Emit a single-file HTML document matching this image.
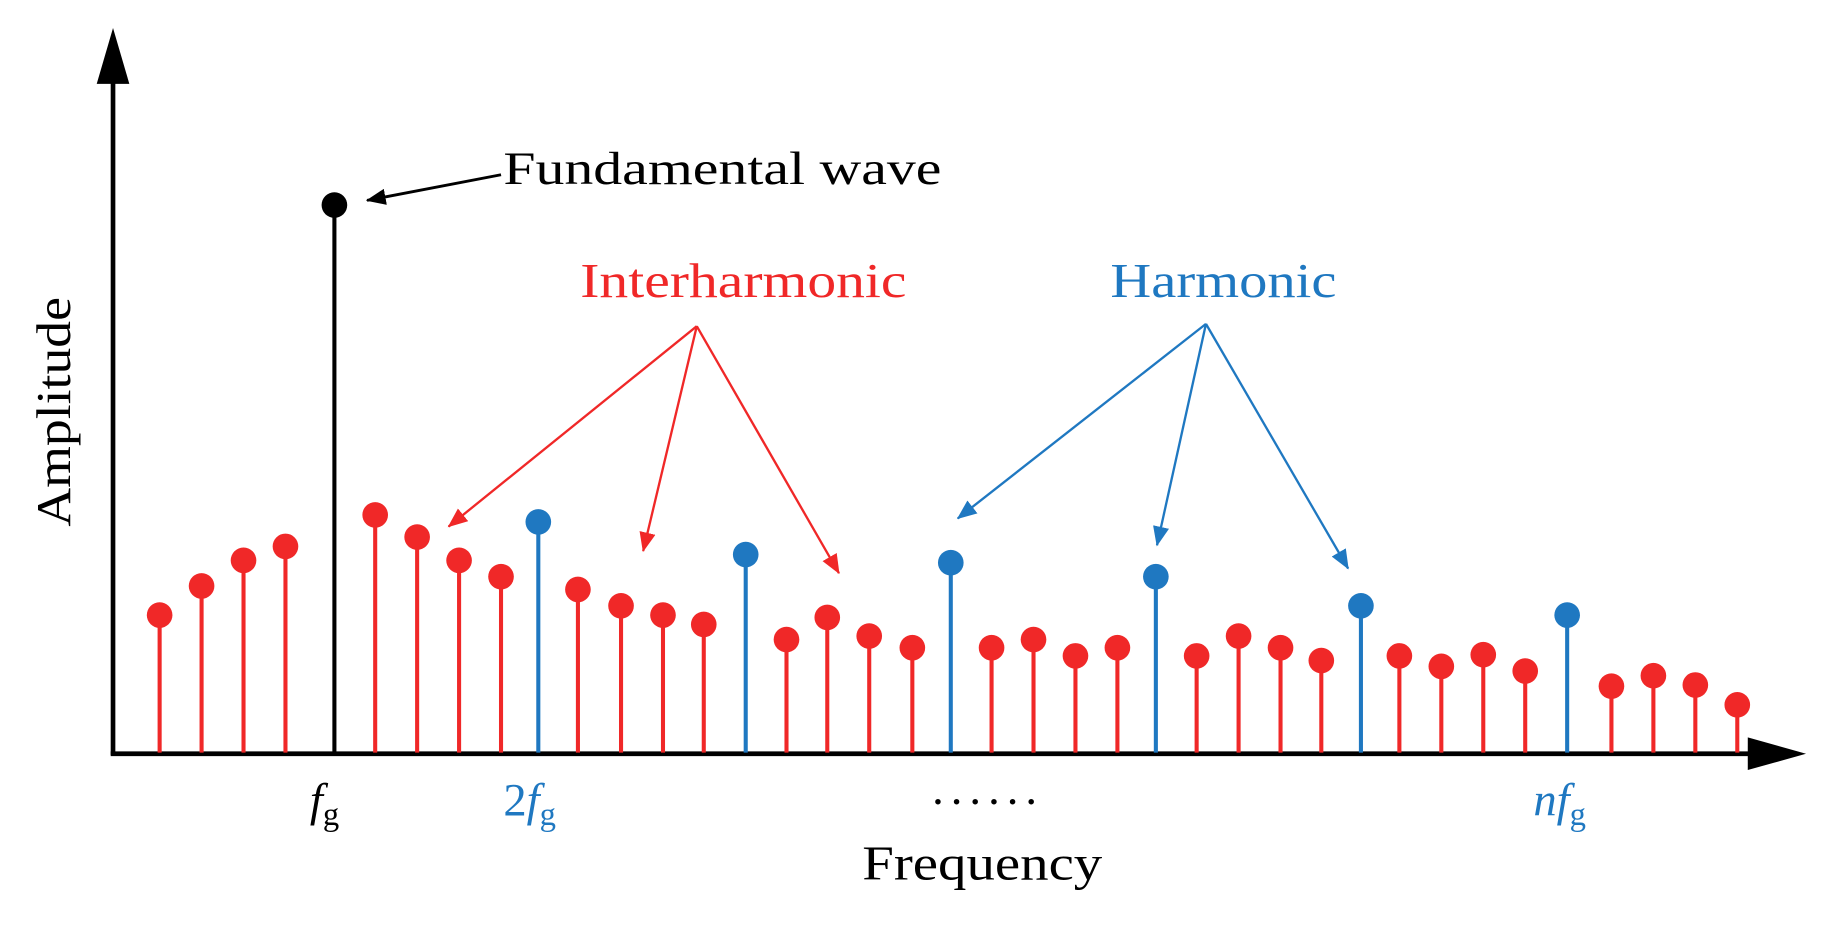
<!DOCTYPE html>
<html><head><meta charset="utf-8"><style>html,body{margin:0;padding:0;background:#fff}svg{display:block}</style></head><body>
<svg width="1827" height="925" viewBox="0 0 1568 794" preserveAspectRatio="none" xmlns="http://www.w3.org/2000/svg" font-family="Liberation Serif, serif">
<defs>
<marker id="ar" markerWidth="18" markerHeight="14" refX="16" refY="7" orient="auto" markerUnits="userSpaceOnUse"><path d="M0,0 L17,7 L0,14 z" fill="#f02828"/></marker>
<marker id="ab" markerWidth="18" markerHeight="14" refX="16" refY="7" orient="auto" markerUnits="userSpaceOnUse"><path d="M0,0 L17,7 L0,14 z" fill="#1f78c1"/></marker>
<marker id="ak" markerWidth="18" markerHeight="14" refX="16" refY="7" orient="auto" markerUnits="userSpaceOnUse"><path d="M0,0 L17,7 L0,14 z" fill="#000"/></marker>
</defs>
<line x1="97" y1="648" x2="97" y2="60" stroke="#000" stroke-width="4"/>
<line x1="95" y1="647" x2="1510" y2="647" stroke="#000" stroke-width="4"/>
<polygon points="97,24 83,72 111,72" fill="#000"/>
<polygon points="1550,647 1500,633 1500,661" fill="#000"/>
<g stroke-width="3.5" stroke="#f02828" fill="#f02828">
<line x1="137" y1="528" x2="137" y2="646"/><circle cx="137" cy="528" r="11" stroke="none"/>
<line x1="173" y1="503" x2="173" y2="646"/><circle cx="173" cy="503" r="11" stroke="none"/>
<line x1="209" y1="481" x2="209" y2="646"/><circle cx="209" cy="481" r="11" stroke="none"/>
<line x1="245" y1="469" x2="245" y2="646"/><circle cx="245" cy="469" r="11" stroke="none"/>
<line x1="322" y1="442" x2="322" y2="646"/><circle cx="322" cy="442" r="11" stroke="none"/>
<line x1="358" y1="461" x2="358" y2="646"/><circle cx="358" cy="461" r="11" stroke="none"/>
<line x1="394" y1="481" x2="394" y2="646"/><circle cx="394" cy="481" r="11" stroke="none"/>
<line x1="430" y1="495" x2="430" y2="646"/><circle cx="430" cy="495" r="11" stroke="none"/>
<line x1="496" y1="506" x2="496" y2="646"/><circle cx="496" cy="506" r="11" stroke="none"/>
<line x1="533" y1="520" x2="533" y2="646"/><circle cx="533" cy="520" r="11" stroke="none"/>
<line x1="569" y1="528" x2="569" y2="646"/><circle cx="569" cy="528" r="11" stroke="none"/>
<line x1="604" y1="536" x2="604" y2="646"/><circle cx="604" cy="536" r="11" stroke="none"/>
<line x1="675" y1="549" x2="675" y2="646"/><circle cx="675" cy="549" r="11" stroke="none"/>
<line x1="710" y1="530" x2="710" y2="646"/><circle cx="710" cy="530" r="11" stroke="none"/>
<line x1="746" y1="546" x2="746" y2="646"/><circle cx="746" cy="546" r="11" stroke="none"/>
<line x1="783" y1="556" x2="783" y2="646"/><circle cx="783" cy="556" r="11" stroke="none"/>
<line x1="851" y1="556" x2="851" y2="646"/><circle cx="851" cy="556" r="11" stroke="none"/>
<line x1="887" y1="549" x2="887" y2="646"/><circle cx="887" cy="549" r="11" stroke="none"/>
<line x1="923" y1="563" x2="923" y2="646"/><circle cx="923" cy="563" r="11" stroke="none"/>
<line x1="959" y1="556" x2="959" y2="646"/><circle cx="959" cy="556" r="11" stroke="none"/>
<line x1="1027" y1="563" x2="1027" y2="646"/><circle cx="1027" cy="563" r="11" stroke="none"/>
<line x1="1063" y1="546" x2="1063" y2="646"/><circle cx="1063" cy="546" r="11" stroke="none"/>
<line x1="1099" y1="556" x2="1099" y2="646"/><circle cx="1099" cy="556" r="11" stroke="none"/>
<line x1="1134" y1="567" x2="1134" y2="646"/><circle cx="1134" cy="567" r="11" stroke="none"/>
<line x1="1201" y1="563" x2="1201" y2="646"/><circle cx="1201" cy="563" r="11" stroke="none"/>
<line x1="1237" y1="572" x2="1237" y2="646"/><circle cx="1237" cy="572" r="11" stroke="none"/>
<line x1="1273" y1="562" x2="1273" y2="646"/><circle cx="1273" cy="562" r="11" stroke="none"/>
<line x1="1309" y1="576" x2="1309" y2="646"/><circle cx="1309" cy="576" r="11" stroke="none"/>
<line x1="1383" y1="589" x2="1383" y2="646"/><circle cx="1383" cy="589" r="11" stroke="none"/>
<line x1="1419" y1="580" x2="1419" y2="646"/><circle cx="1419" cy="580" r="11" stroke="none"/>
<line x1="1455" y1="588" x2="1455" y2="646"/><circle cx="1455" cy="588" r="11" stroke="none"/>
<line x1="1491" y1="605" x2="1491" y2="646"/><circle cx="1491" cy="605" r="11" stroke="none"/>
</g>
<g stroke-width="3.5" stroke="#1f78c1" fill="#1f78c1">
<line x1="462" y1="448" x2="462" y2="646"/><circle cx="462" cy="448" r="11" stroke="none"/>
<line x1="640" y1="476" x2="640" y2="646"/><circle cx="640" cy="476" r="11" stroke="none"/>
<line x1="816" y1="483" x2="816" y2="646"/><circle cx="816" cy="483" r="11" stroke="none"/>
<line x1="992" y1="495" x2="992" y2="646"/><circle cx="992" cy="495" r="11" stroke="none"/>
<line x1="1168" y1="520" x2="1168" y2="646"/><circle cx="1168" cy="520" r="11" stroke="none"/>
<line x1="1345" y1="528" x2="1345" y2="646"/><circle cx="1345" cy="528" r="11" stroke="none"/>
</g>
<line x1="287" y1="176" x2="287" y2="646" stroke="#000" stroke-width="3.5"/><circle cx="287" cy="176" r="11" fill="#000"/>
<line x1="430" y1="150" x2="315" y2="172" stroke="#000" stroke-width="2.5" marker-end="url(#ak)"/>
<text x="432" y="158" font-size="40" textLength="376" lengthAdjust="spacingAndGlyphs">Fundamental wave</text>
<g stroke="#f02828" stroke-width="2">
<line x1="598" y1="280" x2="385" y2="452" marker-end="url(#ar)"/>
<line x1="598" y1="280" x2="552" y2="473" marker-end="url(#ar)"/>
<line x1="598" y1="280" x2="720" y2="492" marker-end="url(#ar)"/>
</g>
<g stroke="#1f78c1" stroke-width="2">
<line x1="1035" y1="278" x2="822" y2="445" marker-end="url(#ab)"/>
<line x1="1035" y1="278" x2="993" y2="468" marker-end="url(#ab)"/>
<line x1="1035" y1="278" x2="1157" y2="488" marker-end="url(#ab)"/>
</g>
<text x="498" y="255" font-size="42" fill="#f02828" textLength="280" lengthAdjust="spacingAndGlyphs">Interharmonic</text>
<text x="953" y="255" font-size="42" fill="#1f78c1" textLength="194" lengthAdjust="spacingAndGlyphs">Harmonic</text>
<text transform="translate(60,452) rotate(-90)" font-size="42" textLength="197" lengthAdjust="spacingAndGlyphs">Amplitude</text>
<text x="266" y="700" font-size="40" font-style="italic">f<tspan font-style="normal" font-size="28" dy="8">g</tspan></text>
<text x="432" y="700" font-size="40" fill="#1f78c1">2<tspan font-style="italic">f</tspan><tspan font-size="28" dy="8">g</tspan></text>
<text x="1316" y="700" font-size="40" fill="#1f78c1" font-style="italic">nf<tspan font-style="normal" font-size="28" dy="8">g</tspan></text>
<text x="800" y="690" font-size="40" textLength="90" lengthAdjust="spacing">......</text>
<text x="740" y="755" font-size="42" textLength="206" lengthAdjust="spacingAndGlyphs">Frequency</text>
</svg>
</body></html>
